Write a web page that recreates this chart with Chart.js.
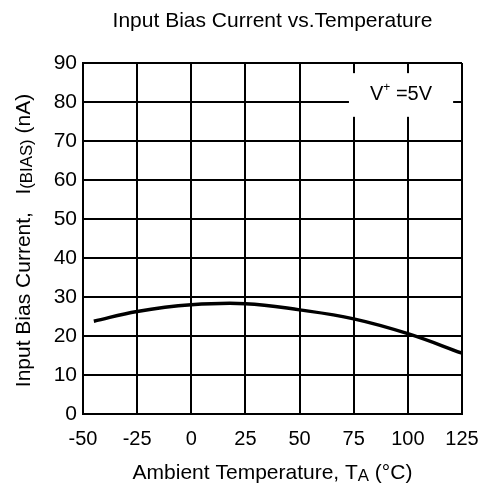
<!DOCTYPE html>
<html>
<head>
<meta charset="utf-8">
<script src="https://cdn.jsdelivr.net/npm/chart.js@4/dist/chart.umd.min.js"></script>
<style>
  body { margin: 0; background: #fff; }
  #chart { display: block; }
</style>
</head>
<body>
<canvas id="chart" width="496" height="488"></canvas>
<script>
// data
const temps = [-45, -25, 0, 25, 50, 75, 100, 125];
const biasCurrent = [23.8, 26.3, 28.0, 28.3, 26.7, 24.4, 20.6, 15.6];

// axis ranges / ticks
const xTicks = [-50, -25, 0, 25, 50, 75, 100, 125];
const yTicks = [0, 10, 20, 30, 40, 50, 60, 70, 80, 90];

const FONT = '"Liberation Sans", Arial, sans-serif';

// text made of pieces, some of them subscripts
function richWidth(ctx, parts, size) {
  let w = 0;
  parts.forEach(p => {
    ctx.font = (p.sub ? size * 0.8 : size) + 'px ' + FONT;
    w += ctx.measureText(p.t).width;
  });
  return w;
}

function drawRich(ctx, parts, size, cx, cy) {
  const w = richWidth(ctx, parts, size);
  let x = cx - w / 2;
  ctx.textBaseline = 'middle';
  ctx.textAlign = 'left';
  parts.forEach(p => {
    ctx.font = (p.sub ? size * 0.8 : size) + 'px ' + FONT;
    const dy = p.sub ? size * 0.18 : 0;
    ctx.fillText(p.t, x, cy + dy);
    x += ctx.measureText(p.t).width;
  });
}

const labelsPlugin = {
  id: 'labels',
  afterDraw(chart) {
    const ctx = chart.ctx;
    const area = chart.chartArea;
    const xs = chart.scales.x, ys = chart.scales.y;
    const midX = (area.left + area.right) / 2;
    const midY = (area.top + area.bottom) / 2;
    ctx.save();
    ctx.fillStyle = '#000';

    // title
    drawRich(ctx, [{ t: 'Input Bias Current vs.Temperature' }], 21, midX, 21);

    // x axis title
    drawRich(ctx, [
      { t: 'Ambient Temperature, T' },
      { t: 'A', sub: true },
      { t: ' (°C)' }
    ], 21, midX, 473);

    // y axis title (rotated)
    ctx.save();
    ctx.translate(24, midY + 2);
    ctx.rotate(-Math.PI / 2);
    drawRich(ctx, [
      { t: 'Input Bias Current,   I' },
      { t: '(BIAS)', sub: true },
      { t: ' (nA)' }
    ], 21, 0, 0);
    ctx.restore();

    // V+ =5V note, knocks out the grid behind it
    const l = xs.getPixelForValue(72.8), r = xs.getPixelForValue(120.9);
    const t = ys.getPixelForValue(87.4), b = ys.getPixelForValue(76.2);
    ctx.fillStyle = '#fff';
    ctx.fillRect(l, t, r - l, b - t);
    ctx.fillStyle = '#000';
    ctx.font = '20px ' + FONT;
    const vw = ctx.measureText('V').width;
    const rest = ' =5V';
    const rw = ctx.measureText(rest).width;
    ctx.font = '12px ' + FONT;
    const pw = ctx.measureText('+').width;
    let x0 = (l + r) / 2 - (vw + pw + rw) / 2;
    const cy = (t + b) / 2;
    ctx.textBaseline = 'middle';
    ctx.textAlign = 'left';
    ctx.font = '20px ' + FONT;
    ctx.fillText('V', x0, cy);
    ctx.font = '12px ' + FONT;
    ctx.fillText('+', x0 + vw, cy - 7);
    ctx.font = '20px ' + FONT;
    ctx.fillText(rest, x0 + vw + pw, cy);

    ctx.restore();
  }
};

new Chart(document.getElementById('chart'), {
  type: 'line',
  data: {
    datasets: [{
      data: temps.map((t, i) => ({ x: t, y: biasCurrent[i] })),
      borderColor: '#000',
      borderWidth: 3.5,
      pointRadius: 0,
      tension: 0.4,
      fill: false
    }]
  },
  options: {
    responsive: false,
    animation: false,
    devicePixelRatio: 1,
    layout: { padding: { top: 63, right: 34, left: 0, bottom: 0 } },
    plugins: {
      legend: { display: false },
      title: { display: false },
      tooltip: { enabled: false }
    },
    scales: {
      x: {
        type: 'linear',
        min: xTicks[0],
        max: xTicks[xTicks.length - 1],
        afterBuildTicks(scale) { scale.ticks = xTicks.map(v => ({ value: v })); },
        afterFit(scale) { scale.height = 74; },
        ticks: {
          color: '#000',
          font: { family: FONT, size: 20 },
          padding: 13,
          maxRotation: 0
        },
        grid: { color: '#000', lineWidth: 2, drawTicks: false },
        border: { color: '#000', width: 2 }
      },
      y: {
        type: 'linear',
        min: yTicks[0],
        max: yTicks[yTicks.length - 1],
        afterBuildTicks(scale) { scale.ticks = yTicks.map(v => ({ value: v })); },
        afterFit(scale) { scale.width = 83; },
        ticks: {
          color: '#000',
          font: { family: FONT, size: 21 },
          padding: 6
        },
        grid: { color: '#000', lineWidth: 2, drawTicks: false },
        border: { color: '#000', width: 2 }
      }
    }
  },
  plugins: [labelsPlugin]
});
</script>
</body>
</html>
